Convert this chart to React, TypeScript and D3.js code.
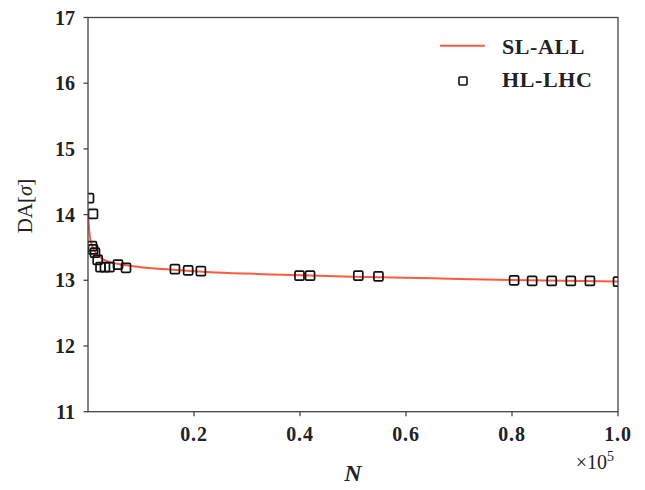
import React from "react";
import * as d3 from "d3";

// HL-LHC tracking results: number of turns N vs dynamic aperture (sigma)
const hlN = [190, 940, 750, 950, 1320, 1830, 2360, 3200, 4060, 5660, 7170, 16400, 18900, 21300, 39900, 41900, 51000, 54800, 80400, 83800, 87500, 91100, 94700, 100000];
const hlDA = [14.25, 14.01, 13.52, 13.47, 13.42, 13.31, 13.2, 13.2, 13.2, 13.24, 13.19, 13.17, 13.15, 13.14, 13.07, 13.07, 13.07, 13.06, 13.0, 12.99, 12.99, 12.99, 12.99, 12.98];

// SL-ALL scaling-law curve, sampled
const slN = [40, 300, 800, 1500, 2500, 4000, 6000, 10000, 16000, 24000, 35000, 50000, 65000, 80000, 100000];
const slDA = [13.95, 13.7, 13.52, 13.42, 13.34, 13.28, 13.245, 13.2, 13.16, 13.12, 13.09, 13.055, 13.03, 13.005, 12.98];

const xTicks = [0.2e5, 0.4e5, 0.6e5, 0.8e5, 1.0e5];
const xTickLabels = ["0.2", "0.4", "0.6", "0.8", "1.0"];
const yTicks = [11, 12, 13, 14, 15, 16, 17];

const W = 645;
const H = 490;
const left = 88;
const right = 618;
const top = 17.5;
const bottom = 411.7;

const axisColor = "#444";
const lineColor = "#ff5a3f";
const serif = "'Liberation Serif', 'DejaVu Serif', serif";

export default function App() {
  const x = d3.scaleLinear().domain([0, 1e5]).range([left, right]);
  const y = d3.scaleLinear().domain([11, 17]).range([bottom, top]);

  const line = d3
    .line<number>()
    .x((_, i) => x(slN[i]))
    .y((d) => y(d))
    .curve(d3.curveMonotoneX);

  const sq = 9;

  return (
    <svg
      width={W}
      height={H}
      style={{ position: "absolute", left: 0, top: 0, background: "#fff" }}
      fontFamily={serif}
    >
      <defs>
        <clipPath id="plot">
          <rect x={left} y={top} width={right - left} height={bottom - top} />
        </clipPath>
      </defs>

      {/* curve */}
      <path d={line(slDA) ?? ""} fill="none" stroke={lineColor} strokeWidth={2} clipPath="url(#plot)" />

      {/* markers */}
      <g clipPath="url(#plot)">
        {hlN.map((n, i) => (
          <rect
            key={i}
            x={x(n) - sq / 2}
            y={y(hlDA[i]) - sq / 2}
            width={sq}
            height={sq}
            rx={1.2}
            fill="none"
            stroke="#111"
            strokeWidth={1.7}
          />
        ))}
      </g>

      {/* frame */}
      <rect x={left} y={top} width={right - left} height={bottom - top} fill="none" stroke={axisColor} strokeWidth={1.3} />

      {/* y ticks */}
      {yTicks.map((t) => (
        <g key={t}>
          <line x1={left - 4.5} x2={left} y1={y(t)} y2={y(t)} stroke={axisColor} strokeWidth={1.3} />
          <text x={75} y={y(t)} dy="0.35em" textAnchor="end" fontSize={20} fontWeight="bold" fill="#222">
            {t}
          </text>
        </g>
      ))}

      {/* x ticks */}
      {xTicks.map((t, i) => (
        <g key={t}>
          <line x1={x(t)} x2={x(t)} y1={bottom} y2={bottom + 4.5} stroke={axisColor} strokeWidth={1.3} />
          <text x={x(t)} y={441} textAnchor="middle" fontSize={20} fontWeight="bold" fill="#222" letterSpacing={0.8}>
            {xTickLabels[i]}
          </text>
        </g>
      ))}

      {/* offset multiplier */}
      <text x={614} y={469} textAnchor="end" fontSize={20} fill="#222">
        ×10
        <tspan fontSize={14} dy={-8}>5</tspan>
      </text>

      {/* axis titles */}
      <text x={(left + right) / 2} y={481} textAnchor="middle" fontSize={24} fontWeight="bold" fontStyle="italic" fill="#222">
        N
      </text>
      <text transform={`translate(32,206) rotate(-90)`} textAnchor="middle" fontSize={21} fill="#222">
        DA[<tspan fontStyle="italic">σ</tspan>]
      </text>

      {/* legend */}
      <line x1={440} x2={485} y1={45.7} y2={45.7} stroke={lineColor} strokeWidth={2} />
      <text x={502} y={54} fontSize={22} fontWeight="bold" fill="#222" letterSpacing={0.6}>
        SL-ALL
      </text>
      <rect x={463 - 4} y={81 - 4} width={8} height={8} rx={1} fill="none" stroke="#111" strokeWidth={1.6} />
      <text x={502} y={87} fontSize={22} fontWeight="bold" fill="#222" letterSpacing={0.6}>
        HL-LHC
      </text>
    </svg>
  );
}
